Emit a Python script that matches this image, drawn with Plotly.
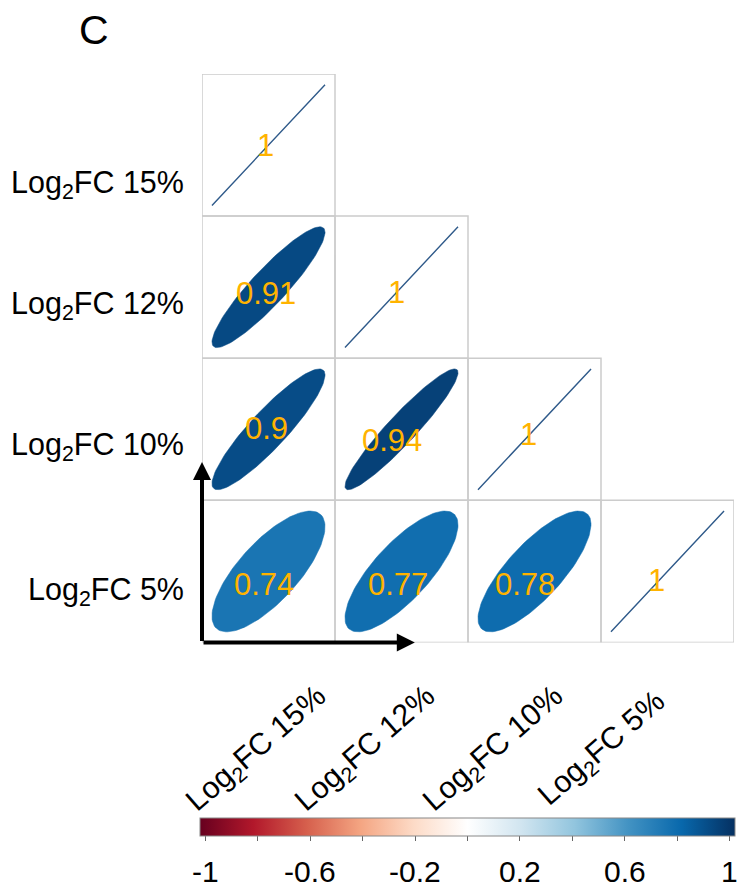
import numpy as np
import plotly.graph_objects as go
from plotly.colors import sample_colorscale

# Variables and their pairwise correlations (lower triangle is drawn)
labels = ["Log<sub>2</sub>FC 15%", "Log<sub>2</sub>FC 12%",
          "Log<sub>2</sub>FC 10%", "Log<sub>2</sub>FC 5%"]
corr = [
    [1.00, 0.91, 0.90, 0.74],
    [0.91, 1.00, 0.94, 0.77],
    [0.90, 0.94, 1.00, 0.78],
    [0.74, 0.77, 0.78, 1.00],
]
cbar_ticks = [-1, -0.8, -0.6, -0.4, -0.2, 0, 0.2, 0.4, 0.6, 0.8, 1]
cbar_labels = [-1, -0.6, -0.2, 0.2, 0.6, 1]

# Red-white-blue diverging palette
rdbu = ["#67001F", "#B2182B", "#D6604D", "#F4A582", "#FDDBC7", "#FFFFFF",
        "#D1E5F0", "#92C5DE", "#4393C3", "#0868AC", "#053061"]
colorscale = [[k / (len(rdbu) - 1), c] for k, c in enumerate(rdbu)]

W, H = 742, 888
FONT = "Liberation Sans, Arial, Helvetica, sans-serif"
TXT_COLOR = "#FFB300"
n = len(labels)

# colour bar geometry (pixels) and value range
CB_LEFT, CB_LEN, CB_TOP, CB_THICK = 200, 535, 818, 18
CB_MIN, CB_MAX = -1.02, 1.02

# label nudges (pixels) for the coefficient text, keyed by (row, col)
coef_nudge = {(0, 0): (-3, 0), (1, 0): (-3, -6), (1, 1): (-5, -5),
              (2, 0): (-2, 1), (2, 1): (-10, -11), (2, 2): (-6, -5),
              (3, 0): (-5, -13), (3, 1): (-4, -13), (3, 2): (-10, -13),
              (3, 3): (-11, -9)}
row_label_shift = [-39, -18, -17, -20]
col_label_shift = [-12, -36, -41, -66]


def px(x):
    return x / W


def py(y):
    return 1 - y / H


def ellipse(r, cx, cy, scale=0.85, npts=120):
    k = np.linspace(0, 2 * np.pi, npts)
    a = np.arccos(np.clip(r, -1, 1)) / 2
    ex = np.cos(k + a) / 2 * scale
    ey = np.cos(k - a) / 2 * scale
    return cx + ex, cy - ey


fig = go.Figure()

shapes = []
annotations = []
for i in range(n):
    for j in range(i + 1):
        r = corr[i][j]
        cx, cy = j + 0.5, i + 0.5
        shapes.append(dict(type="rect", xref="x", yref="y",
                           x0=j, x1=j + 1, y0=i, y1=i + 1,
                           line=dict(color="#CCCCCC", width=1.5),
                           layer="below"))
        color = sample_colorscale(colorscale, [(r + 1) / 2])[0]
        ex, ey = ellipse(r, cx, cy)
        if r >= 0.999:
            fig.add_trace(go.Scatter(x=ex, y=ey, mode="lines",
                                     line=dict(color="#2F5A8A", width=1.4),
                                     hoverinfo="skip", showlegend=False))
        else:
            fig.add_trace(go.Scatter(x=ex, y=ey, mode="lines", fill="toself",
                                     fillcolor=color,
                                     line=dict(color=color, width=0.5),
                                     hoverinfo="skip", showlegend=False))
        dx, dy = coef_nudge.get((i, j), (0, 0))
        txt = "1" if r >= 0.999 else f"{r:g}"
        annotations.append(dict(x=cx, y=cy, xref="x", yref="y", text=txt,
                                showarrow=False, xshift=dx, yshift=dy,
                                xanchor="center", yanchor="middle",
                                font=dict(family=FONT, size=31, color=TXT_COLOR)))

# row labels
for i, lab in enumerate(labels):
    annotations.append(dict(x=px(186), y=i + 0.5, xref="paper", yref="y",
                            text=lab, showarrow=False, xanchor="right",
                            yanchor="middle", yshift=row_label_shift[i],
                            font=dict(family=FONT, size=30.5, color="black")))

# column labels (rotated, below the matrix)
for j, lab in enumerate(labels):
    annotations.append(dict(x=j + 0.5, y=py(749), xref="x", yref="paper",
                            text=lab, showarrow=False, textangle=-41,
                            xanchor="center", yanchor="middle",
                            xshift=col_label_shift[j],
                            font=dict(family=FONT, size=30.5, color="black")))

# axis arrows from the bottom-left corner
annotations.append(dict(x=0, y=2.73, ax=0, ay=n, xref="x", yref="y",
                        axref="x", ayref="y", showarrow=True, arrowhead=2,
                        arrowsize=0.9, arrowwidth=4, arrowcolor="black",
                        standoff=0, text=""))
annotations.append(dict(x=1.6, y=n, ax=0, ay=n, xref="x", yref="y",
                        axref="x", ayref="y", showarrow=True, arrowhead=2,
                        arrowsize=0.9, arrowwidth=4, arrowcolor="black",
                        standoff=0, text=""))

# panel letter
annotations.append(dict(x=px(94), y=py(30), xref="paper", yref="paper",
                        text="C", showarrow=False,
                        xanchor="center", yanchor="middle",
                        font=dict(family=FONT, size=41, color="black")))

# colour bar tick labels, placed on the bar's value scale
for v in cbar_labels:
    xpix = CB_LEFT + CB_LEN * (v - CB_MIN) / (CB_MAX - CB_MIN)
    annotations.append(dict(x=px(xpix), y=py(CB_TOP + CB_THICK + 35),
                            xref="paper", yref="paper", text=f"{v:g}",
                            showarrow=False, xanchor="center",
                            yanchor="middle",
                            font=dict(family=FONT, size=30, color="black")))

# colour bar carrier
fig.add_trace(go.Scatter(
    x=[None], y=[None], mode="markers", showlegend=False, hoverinfo="skip",
    marker=dict(color=[0], cmin=CB_MIN, cmax=CB_MAX, colorscale=colorscale,
                showscale=True,
                colorbar=dict(orientation="h",
                              x=px(CB_LEFT + CB_LEN / 2), xanchor="center",
                              y=py(CB_TOP), yanchor="top", ypad=0, xpad=0,
                              lenmode="pixels", len=CB_LEN,
                              thicknessmode="pixels", thickness=CB_THICK,
                              outlinewidth=1, outlinecolor="#888888",
                              tickmode="array", tickvals=cbar_ticks,
                              showticklabels=False, ticks="outside",
                              ticklen=5, tickcolor="#666666", tickwidth=1))))

fig.update_layout(
    width=W, height=H,
    margin=dict(l=0, r=0, t=0, b=0, autoexpand=False),
    paper_bgcolor="white", plot_bgcolor="white",
    xaxis=dict(domain=[px(202), px(734)], range=[0, n], visible=False,
               fixedrange=True),
    yaxis=dict(domain=[py(642.5), py(74)], range=[n, 0], visible=False,
               fixedrange=True),
    shapes=shapes, annotations=annotations, showlegend=False,
)

fig.write_html("out.html")
